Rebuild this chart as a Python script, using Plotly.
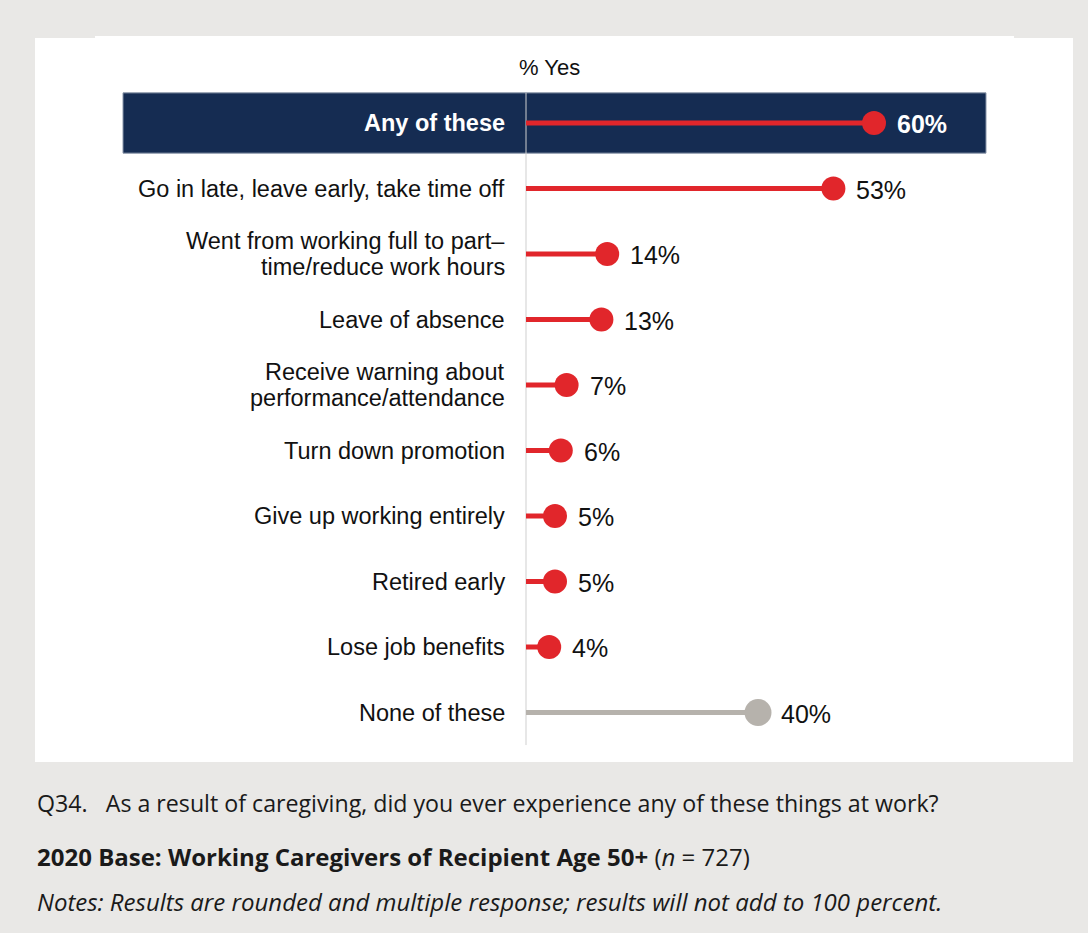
import plotly.graph_objects as go

# Survey items (top to bottom) and share answering "Yes"
categories = [
    "Any of these",
    "Go in late, leave early, take time off",
    "Went from working full to part–<br>time/reduce work hours",
    "Leave of absence",
    "Receive warning about<br>performance/attendance",
    "Turn down promotion",
    "Give up working entirely",
    "Retired early",
    "Lose job benefits",
    "None of these",
]
values = [60, 53, 14, 13, 7, 6, 5, 5, 4, 40]
value_labels = [f"{v}%" for v in values]

W, H = 1088, 933
RED = "#e1262b"
GREY = "#b6b2ac"
NAVY = "#152c52"
PAGE = "#e9e8e6"
LABEL_FONT = "Liberation Sans, Arial, sans-serif"
NOTE_FONT = "Open Sans, sans-serif"
ROW_PX = 65.5


def py(px):
    """Convert a pixel row (from top) to paper fraction."""
    return 1 - px / H


def px_x(px):
    return px / W


rows = list(range(len(categories)))
colors = [GREY if c == "None of these" else RED for c in categories]
sizes = [27 if c == "None of these" else 24 for c in categories]

fig = go.Figure()

# stems from zero to each value
for i, (v, c) in enumerate(zip(values, colors)):
    fig.add_trace(go.Scatter(
        x=[0, v], y=[i, i], mode="lines",
        line=dict(color=c, width=5),
        hoverinfo="skip", showlegend=False,
    ))

# dots at each value
fig.add_trace(go.Scatter(
    x=values, y=rows, mode="markers",
    marker=dict(color=colors, size=sizes, opacity=1, line=dict(width=0)),
    cliponaxis=False, showlegend=False,
))

shapes = [
    # white panel
    dict(type="rect", xref="paper", yref="paper", x0=px_x(35), x1=px_x(1073),
         y0=py(762), y1=py(38), fillcolor="white", line=dict(width=0), layer="below"),
    dict(type="rect", xref="paper", yref="paper", x0=px_x(95), x1=px_x(1014),
         y0=py(38), y1=py(36), fillcolor="white", line=dict(width=0), layer="below"),
    # navy highlight band for the summary row
    dict(type="rect", xref="x domain", yref="y", x0=0, x1=1, y0=-0.46, y1=0.46,
         fillcolor=NAVY, line=dict(color="#8a96aa", width=1), layer="below"),
    # zero line
    dict(type="line", xref="x", yref="y", x0=0, x1=0, y0=-0.46, y1=9.5,
         line=dict(color="#cfcfcf", width=1), layer="below"),
]

annotations = [
    dict(text="% Yes", xref="paper", yref="paper", x=px_x(549), y=py(67),
         xanchor="center", yanchor="middle", showarrow=False,
         font=dict(family=LABEL_FONT, size=22, color="#111111")),
]

# value labels next to each dot
for i, (v, t) in enumerate(zip(values, value_labels)):
    first = i == 0
    annotations.append(dict(
        text=f"<b>{t}</b>" if first else t,
        xref="x", yref="y", x=v, y=i, xanchor="left", yanchor="middle",
        xshift=21, yshift=-1, showarrow=False,
        font=dict(family=LABEL_FONT, size=25, color="white" if first else "#111111"),
    ))

# category labels, right-aligned against the zero line
for i, cat in enumerate(categories):
    bold = i == 0
    lines = cat.split("<br>")
    n = len(lines)
    for k, line in enumerate(lines):
        offset = (k - (n - 1) / 2) * 26 / ROW_PX
        annotations.append(dict(
            text=f"<b>{line}</b>" if bold else line,
            xref="paper", yref="y", x=px_x(507), y=i + offset,
            xanchor="right", yanchor="middle", align="right", showarrow=False,
            font=dict(family=LABEL_FONT, size=23.5,
                      color="white" if bold else "#111111"),
        ))

footer = [
    ("Q34.&nbsp;&nbsp; As a result of caregiving, did you ever experience any of these things at work?", 803, 23.2),
    ("<b>2020 Base: Working Caregivers of Recipient Age 50+</b> (<i>n</i> = 727)", 856, 24),
    ("<i>Notes: Results are rounded and multiple response; results will not add to 100 percent.</i>", 901, 24),
]
for txt, yy, fs in footer:
    annotations.append(dict(
        text=txt, xref="paper", yref="paper", x=px_x(35), y=py(yy),
        xanchor="left", yanchor="middle", showarrow=False,
        font=dict(family=NOTE_FONT, size=fs, color="#1a1a1a"),
    ))

x0_px, x1_px, zero_px, scale = 123, 986, 526, 5.8
fig.update_layout(
    width=W, height=H,
    margin=dict(l=0, r=0, t=0, b=0),
    paper_bgcolor=PAGE, plot_bgcolor="rgba(0,0,0,0)",
    xaxis=dict(domain=[px_x(x0_px), px_x(x1_px)],
               range=[(x0_px - zero_px) / scale, (x1_px - zero_px) / scale],
               visible=False, fixedrange=True),
    yaxis=dict(domain=[py(745.25), py(90.25)], range=[9.5, -0.5],
               visible=False, fixedrange=True),
    shapes=shapes, annotations=annotations,
)

fig.write_html("out.html")
